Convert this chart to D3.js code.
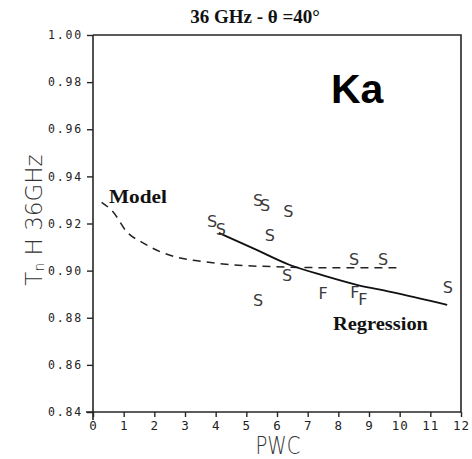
<!DOCTYPE html>
<html>
<head>
<meta charset="utf-8">
<script src="https://cdn.jsdelivr.net/npm/d3@7/dist/d3.min.js"></script>
<style>
  html, body { margin: 0; padding: 0; background: #fff; }
  svg { display: block; }
</style>
</head>
<body>
<svg id="chart" width="472" height="459"></svg>
<script>
// Tick values
const xTicks = [0, 1, 2, 3, 4, 5, 6, 7, 8, 9, 10, 11, 12];
const yTicks = [0.84, 0.86, 0.88, 0.90, 0.92, 0.94, 0.96, 0.98, 1.00];

// Observed brightness temperatures: S and F samples (PWC, Tn)
const sPWC = [3.88, 4.17, 5.38, 5.61, 6.37, 5.77, 6.33, 5.38, 8.51, 9.46, 11.57];
const sTn  = [0.921, 0.9177, 0.930, 0.9278, 0.925, 0.915, 0.898, 0.8875, 0.905, 0.905, 0.893];
const fPWC = [7.50, 8.54, 8.80];
const fTn  = [0.8905, 0.891, 0.888];

// Model curve (dashed)
const modelPWC = [0.28, 0.65, 1.1, 1.6, 2.2, 2.8, 3.5, 4.5, 5.8, 7.0, 8.5, 10.0];
const modelTn  = [0.929, 0.925, 0.9165, 0.912, 0.908, 0.9055, 0.904, 0.9025, 0.9017, 0.9013, 0.9012, 0.9012];

// Regression curve (solid)
const regPWC = [4.1, 5.3, 6.4, 7.5, 8.6, 9.7, 11.55];
const regTn  = [0.916, 0.909, 0.9025, 0.898, 0.894, 0.891, 0.8855];

const svg = d3.select("#chart");
const plotL = 93, plotR = 461, plotT = 35, plotB = 412;

const x = d3.scaleLinear().domain([0, 12]).range([plotL, plotR]);
const y = d3.scaleLinear().domain([0.84, 1.00]).range([plotB, plotT]);

const ink = "#262626";
const plotFont = "'DejaVu Sans Mono', monospace";

// Title
svg.append("text")
  .attr("x", 255).attr("y", 23)
  .attr("text-anchor", "middle")
  .attr("font-family", "'Liberation Serif', 'Times New Roman', serif")
  .attr("font-weight", "bold")
  .attr("font-size", 19)
  .attr("fill", "#111")
  .text("36 GHz - θ =40°");

// Frame (top and right)
svg.append("path")
  .attr("d", `M${plotL},${plotT}H${plotR}V${plotB}`)
  .attr("fill", "none").attr("stroke", ink).attr("stroke-width", 1.6);

// Y axis
const yAxis = d3.axisLeft(y).tickValues(yTicks).tickFormat(d3.format(".2f"))
  .tickSize(6).tickPadding(4).tickSizeOuter(0);
const gy = svg.append("g").attr("transform", `translate(${plotL},0)`).call(yAxis);
gy.select(".domain").attr("stroke", ink).attr("stroke-width", 1.6)
  .attr("d", `M0,${plotT}V${plotB + 8}`);
gy.selectAll(".tick line").attr("stroke", ink).attr("stroke-width", 1.4);
gy.selectAll(".tick text")
  .attr("font-family", plotFont).attr("font-size", 11.5)
  .attr("letter-spacing", 1.8).attr("fill", "#222");

// X axis
const xAxis = d3.axisBottom(x).tickValues(xTicks).tickFormat(d3.format("d"))
  .tickSize(5).tickPadding(4).tickSizeOuter(0);
const gx = svg.append("g").attr("transform", `translate(0,${plotB})`).call(xAxis);
gx.select(".domain").attr("stroke", ink).attr("stroke-width", 1.6)
  .attr("d", `M${plotL - 7},0H${plotR}`);
gx.selectAll(".tick line").attr("stroke", ink).attr("stroke-width", 1.4);
gx.selectAll(".tick text")
  .attr("font-family", plotFont).attr("font-size", 12.5)
  .attr("letter-spacing", 1).attr("fill", "#222");

// Axis titles
svg.append("text")
  .attr("x", 278).attr("y", 454)
  .attr("text-anchor", "middle")
  .attr("font-family", "'DejaVu Sans', sans-serif")
  .attr("font-weight", 200)
  .attr("font-size", 24)
  .attr("textLength", 45).attr("lengthAdjust", "spacingAndGlyphs")
  .attr("fill", "#333")
  .text("PWC");

const yl = svg.append("text")
  .attr("transform", "translate(42,220) rotate(-90)")
  .attr("text-anchor", "middle")
  .attr("font-family", "'DejaVu Sans', sans-serif")
  .attr("font-weight", 200)
  .attr("font-size", 23)
  .attr("fill", "#333");
yl.append("tspan").text("T");
yl.append("tspan").attr("font-size", 14).attr("dy", 2).text("n");
yl.append("tspan").attr("dy", -2).text(" H 36GHz");

// Model (dashed)
const line = d3.line().x(d => x(d[0])).y(d => y(d[1])).curve(d3.curveMonotoneX);
svg.append("path")
  .datum(d3.zip(modelPWC, modelTn))
  .attr("d", line)
  .attr("fill", "none").attr("stroke", "#222").attr("stroke-width", 1.5)
  .attr("stroke-dasharray", "8,6");

// Regression (solid)
svg.append("path")
  .datum(d3.zip(regPWC, regTn))
  .attr("d", line)
  .attr("fill", "none").attr("stroke", "#111").attr("stroke-width", 1.8);

// Sample symbols
const symFont = "'DejaVu Sans', sans-serif";
svg.append("g").selectAll("text.s")
  .data(d3.zip(sPWC, sTn)).join("text")
  .attr("class", "s")
  .attr("x", d => x(d[0])).attr("y", d => y(d[1]))
  .attr("dy", "0.36em")
  .attr("text-anchor", "middle")
  .attr("font-family", symFont).attr("font-size", 16)
  .attr("fill", "#3a3a3a")
  .text("S");
svg.append("g").selectAll("text.f")
  .data(d3.zip(fPWC, fTn)).join("text")
  .attr("class", "f")
  .attr("x", d => x(d[0])).attr("y", d => y(d[1]))
  .attr("dy", "0.36em")
  .attr("text-anchor", "middle")
  .attr("font-family", symFont).attr("font-size", 16)
  .attr("fill", "#3a3a3a")
  .text("F");

// Curve labels
const serif = "'Liberation Serif', 'Times New Roman', serif";
svg.append("text")
  .attr("x", 109).attr("y", 203)
  .attr("font-family", serif).attr("font-weight", "bold").attr("font-size", 19)
  .attr("textLength", 58).attr("lengthAdjust", "spacingAndGlyphs")
  .attr("fill", "#111").text("Model");
svg.append("text")
  .attr("x", 333).attr("y", 330)
  .attr("font-family", serif).attr("font-weight", "bold").attr("font-size", 18)
  .attr("textLength", 95).attr("lengthAdjust", "spacingAndGlyphs")
  .attr("fill", "#111").text("Regression");

// Band label
svg.append("text")
  .attr("x", 331).attr("y", 103)
  .attr("font-family", "'Liberation Sans', Arial, sans-serif")
  .attr("font-weight", "bold").attr("font-size", 41)
  .attr("fill", "#000").text("Ka");
</script>
</body>
</html>
